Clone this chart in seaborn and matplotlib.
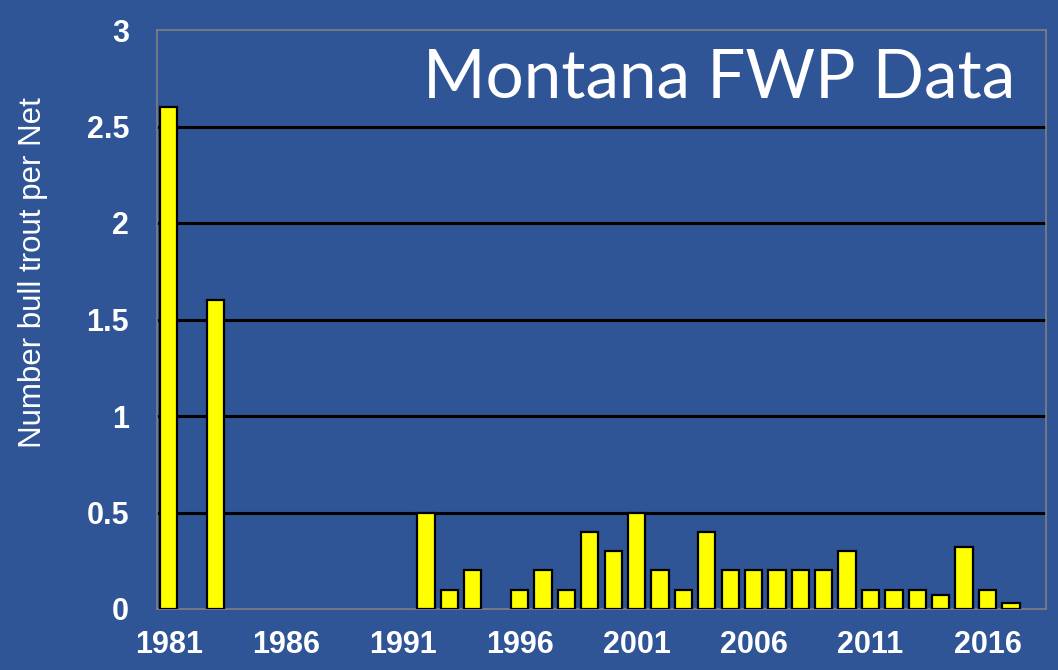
import pandas as pd
import matplotlib
matplotlib.use('Agg')
from matplotlib import pyplot as plt
import seaborn as sns

# data (years with no bar are left out)
years = [1981, 1983, 1992, 1993, 1994, 1996, 1997, 1998, 1999, 2000,
         2001, 2002, 2003, 2004, 2005, 2006, 2007, 2008, 2009, 2010,
         2011, 2012, 2013, 2014, 2015, 2016, 2017]
trout_per_net = [2.6, 1.6, 0.5, 0.1, 0.2, 0.1, 0.2, 0.1, 0.4, 0.3,
                 0.5, 0.2, 0.1, 0.4, 0.2, 0.2, 0.2, 0.2, 0.2, 0.3,
                 0.1, 0.1, 0.1, 0.07, 0.32, 0.1, 0.03]
all_years = list(range(1981, 2019))
label_years = [1981, 1986, 1991, 1996, 2001, 2006, 2011, 2016]
yticks = [0, 0.5, 1, 1.5, 2, 2.5, 3]
ytick_labels = ['0', '0.5', '1', '1.5', '2', '2.5', '3']

df = pd.DataFrame({'Year': years, 'Trout': trout_per_net})

bg = '#2F5597'
sns.set_style('dark')
plt.rcParams['font.family'] = ['Liberation Sans', 'DejaVu Sans']

fig = plt.figure(figsize=(10.58, 6.70), dpi=100, facecolor=bg)
ax = fig.add_axes([157 / 1058, 1 - 609 / 670, 889 / 1058, 579 / 670])
ax.set_facecolor(bg)

# gridlines first so bars sit on top
for v in yticks[1:-1]:
    ax.axhline(v, color='black', lw=2.2, zorder=1)

sns.barplot(data=df, x='Year', y='Trout', order=all_years, color='#FFFF00',
            saturation=1, width=0.74, edgecolor='black', linewidth=1.6,
            errorbar=None, ax=ax, zorder=3)

ax.set_xlim(-0.5, len(all_years) - 0.5)
ax.set_ylim(0, 3)

# labels under the bar centres, tick marks on the category boundaries
ax.set_xticks([all_years.index(y) for y in label_years])
ax.set_xticklabels([str(y) for y in label_years], color='white',
                   fontsize=22, fontweight='bold')
ax.set_xticks([i - 0.5 for i in range(len(all_years) + 1)], minor=True)
ax.tick_params(axis='x', which='major', length=0, pad=15)
ax.tick_params(axis='x', which='minor', direction='out', length=8, width=1, color='#222222')
ax.set_yticks(yticks)
ax.set_yticklabels(ytick_labels, color='white', fontsize=22, fontweight='bold')
ax.tick_params(axis='y', direction='out', length=10, width=1, color='#222222', pad=10)
ax.grid(False)
ax.set_xlabel('')
ax.set_ylabel('')

for s in ['left', 'right', 'top', 'bottom']:
    ax.spines[s].set_visible(True)
    ax.spines[s].set_color('#7F7F7F')
    ax.spines[s].set_linewidth(1.2)

fig.text(33 / 1058, 1 - 273 / 670, 'Number bull trout per Net', rotation=90,
         ha='center', va='center', color='white', fontsize=22.5)

ax.text(0.965, 0.884, 'Montana FWP Data', transform=ax.transAxes,
        ha='right', va='baseline', color='white', fontsize=48.5, family=['Lato', 'DejaVu Sans'])

fig.savefig('out.png', dpi=100, facecolor=bg)
